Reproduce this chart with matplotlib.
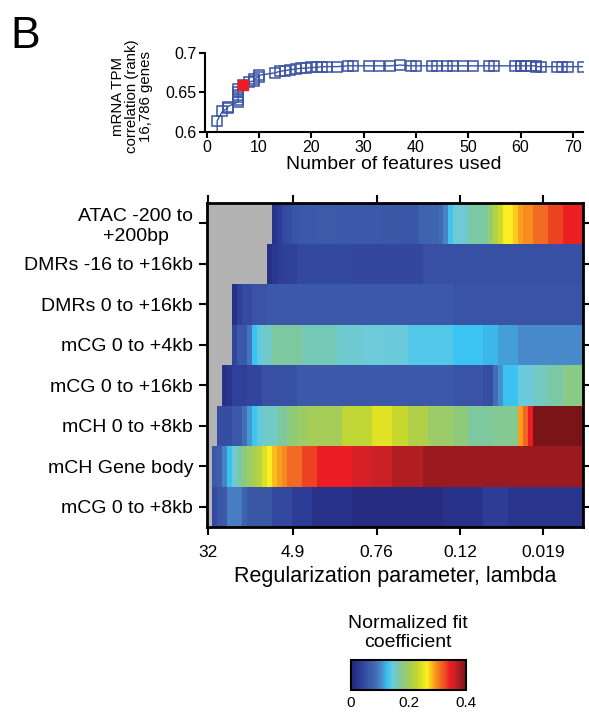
import numpy as np
import matplotlib.pyplot as plt
from matplotlib.colors import LinearSegmentedColormap

plt.rcParams['font.family'] = ['Liberation Sans', 'DejaVu Sans']

nan = np.nan

# top panel: correlation against number of features
n_features = [2, 2, 3, 4, 4, 6, 6, 6, 6, 6, 6, 7, 8, 9, 9, 10, 10, 13, 14, 15, 16, 17,
              18, 19, 20, 21, 22, 23, 25, 27, 28, 31, 33, 35, 37, 39, 40, 43, 44, 46,
              47, 49, 51, 54, 55, 59, 60, 60, 61, 62, 63, 63, 64, 67, 68, 69, 72]
correlation = [0.590, 0.614, 0.626, 0.630, 0.632, 0.638, 0.641, 0.644, 0.647, 0.651,
               0.655, 0.660, 0.663, 0.665, 0.667, 0.670, 0.672, 0.675, 0.677, 0.678,
               0.679, 0.680, 0.681, 0.681, 0.682, 0.682, 0.683, 0.683, 0.683, 0.684,
               0.684, 0.684, 0.684, 0.684, 0.685, 0.684, 0.684, 0.684, 0.684, 0.684,
               0.684, 0.684, 0.684, 0.684, 0.684, 0.684, 0.684, 0.684, 0.684, 0.684,
               0.684, 0.683, 0.683, 0.683, 0.683, 0.683, 0.683]
chosen_features = 7
chosen_corr = 0.660

# heatmap
feature_names = ['ATAC -200 to\n+200bp', 'DMRs -16 to +16kb', 'DMRs 0 to +16kb',
                 'mCG 0 to +4kb', 'mCG 0 to +16kb', 'mCH 0 to +8kb',
                 'mCH Gene body', 'mCG 0 to +8kb']
lambda_ticks = [32, 4.9, 0.76, 0.12, 0.019]
lambda_tick_labels = ['32', '4.9', '0.76', '0.12', '0.019']

atac = [nan, nan, nan, nan, nan, nan, nan, nan, nan, nan, nan, nan, nan, 0.020, 0.030,
        0.045, 0.050, 0.055, 0.060, 0.061, 0.062, 0.062, 0.063, 0.063, 0.063, 0.063, 0.062, 0.062, 0.062, 0.062,
        0.062, 0.062, 0.061, 0.061, 0.061, 0.060, 0.060, 0.060, 0.058, 0.058, 0.058, 0.058, 0.074, 0.075, 0.076,
        0.078, 0.082, 0.100, 0.130, 0.148, 0.148, 0.150, 0.165, 0.165, 0.166, 0.168, 0.190, 0.215, 0.235, 0.265,
        0.265, 0.275, 0.290, 0.298, 0.298, 0.312, 0.312, 0.312, 0.330, 0.330, 0.330, 0.343, 0.343, 0.343, 0.343]
dmr_16_16 = [nan, nan, nan, nan, nan, nan, nan, nan, nan, nan, nan, nan, 0.015, 0.025, 0.030,
             0.035, 0.035, 0.035, 0.045, 0.045, 0.045, 0.045, 0.045, 0.045, 0.045, 0.045, 0.045, 0.045, 0.045, 0.043,
             0.043, 0.043, 0.043, 0.043, 0.043, 0.043, 0.043, 0.043, 0.043, 0.043, 0.043, 0.043, 0.043, 0.052, 0.052,
             0.052, 0.052, 0.052, 0.052, 0.052, 0.052, 0.052, 0.052, 0.052, 0.052, 0.052, 0.052, 0.052, 0.052, 0.052,
             0.052, 0.052, 0.052, 0.052, 0.052, 0.052, 0.052, 0.052, 0.052, 0.052, 0.052, 0.052, 0.052, 0.052, 0.052]
dmr_0_16 = [nan, nan, nan, nan, nan, 0.015, 0.035, 0.048, 0.048, 0.056, 0.056, 0.056, 0.062, 0.062, 0.062,
            0.062, 0.062, 0.062, 0.062, 0.062, 0.062, 0.062, 0.062, 0.062, 0.062, 0.062, 0.062, 0.062, 0.062, 0.062,
            0.062, 0.062, 0.062, 0.062, 0.062, 0.062, 0.062, 0.062, 0.062, 0.062, 0.062, 0.062, 0.062, 0.062, 0.062,
            0.062, 0.062, 0.062, 0.062, 0.055, 0.055, 0.055, 0.055, 0.055, 0.055, 0.055, 0.055, 0.055, 0.055, 0.055,
            0.055, 0.055, 0.055, 0.055, 0.055, 0.055, 0.055, 0.055, 0.055, 0.055, 0.055, 0.055, 0.055, 0.055, 0.055]
mcg_0_4 = [nan, nan, nan, nan, nan, 0.040, 0.062, 0.062, 0.090, 0.128, 0.142, 0.152, 0.152, 0.168, 0.168,
           0.168, 0.168, 0.168, 0.168, 0.158, 0.158, 0.158, 0.158, 0.158, 0.158, 0.158, 0.150, 0.150, 0.150, 0.150,
           0.150, 0.146, 0.146, 0.146, 0.146, 0.146, 0.144, 0.144, 0.144, 0.144, 0.137, 0.137, 0.137, 0.137, 0.137,
           0.137, 0.137, 0.137, 0.137, 0.129, 0.129, 0.129, 0.129, 0.129, 0.129, 0.122, 0.122, 0.122, 0.112, 0.112,
           0.112, 0.112, 0.104, 0.104, 0.104, 0.104, 0.104, 0.104, 0.104, 0.104, 0.104, 0.104, 0.104, 0.104, 0.104]
mcg_0_16 = [nan, nan, nan, 0.015, 0.022, 0.035, 0.035, 0.035, 0.042, 0.042, 0.042, 0.052, 0.052, 0.052, 0.052,
            0.052, 0.052, 0.052, 0.062, 0.062, 0.062, 0.062, 0.062, 0.062, 0.062, 0.062, 0.062, 0.062, 0.062, 0.062,
            0.062, 0.062, 0.062, 0.062, 0.062, 0.062, 0.062, 0.062, 0.062, 0.062, 0.062, 0.062, 0.062, 0.062, 0.062,
            0.062, 0.062, 0.062, 0.062, 0.056, 0.056, 0.056, 0.056, 0.056, 0.056, 0.050, 0.050, 0.085, 0.105, 0.128,
            0.128, 0.128, 0.145, 0.145, 0.145, 0.155, 0.155, 0.155, 0.165, 0.165, 0.165, 0.180, 0.180, 0.180, 0.180]
mch_0_8 = [nan, nan, 0.050, 0.050, 0.050, 0.062, 0.062, 0.085, 0.110, 0.130, 0.142, 0.153, 0.153, 0.153, 0.168,
           0.168, 0.185, 0.185, 0.195, 0.195, 0.202, 0.202, 0.202, 0.202, 0.202, 0.202, 0.202, 0.225, 0.225, 0.225,
           0.225, 0.225, 0.225, 0.248, 0.248, 0.248, 0.248, 0.232, 0.232, 0.232, 0.212, 0.212, 0.212, 0.212, 0.195,
           0.195, 0.195, 0.195, 0.195, 0.185, 0.185, 0.185, 0.168, 0.168, 0.168, 0.168, 0.168, 0.175, 0.175, 0.175,
           0.175, 0.175, 0.290, 0.315, 0.345, 0.400, 0.400, 0.400, 0.400, 0.400, 0.400, 0.400, 0.400, 0.400, 0.400]
mch_body = [nan, 0.060, 0.070, 0.100, 0.128, 0.150, 0.165, 0.185, 0.195, 0.205, 0.220, 0.245, 0.265, 0.280, 0.290,
            0.300, 0.312, 0.312, 0.312, 0.330, 0.330, 0.330, 0.345, 0.345, 0.345, 0.345, 0.345, 0.345, 0.345, 0.355,
            0.355, 0.355, 0.355, 0.362, 0.362, 0.362, 0.362, 0.372, 0.372, 0.372, 0.372, 0.372, 0.372, 0.383, 0.383,
            0.383, 0.383, 0.383, 0.383, 0.383, 0.383, 0.383, 0.383, 0.383, 0.383, 0.383, 0.383, 0.383, 0.383, 0.383,
            0.383, 0.383, 0.383, 0.383, 0.383, 0.383, 0.383, 0.383, 0.383, 0.383, 0.383, 0.383, 0.383, 0.383, 0.383]
mcg_0_8 = [nan, 0.045, 0.058, 0.062, 0.098, 0.098, 0.098, 0.075, 0.060, 0.060, 0.060, 0.060, 0.060, 0.045, 0.045,
           0.045, 0.045, 0.030, 0.030, 0.030, 0.030, 0.018, 0.018, 0.018, 0.018, 0.018, 0.018, 0.018, 0.018, 0.008,
           0.008, 0.008, 0.008, 0.008, 0.008, 0.008, 0.008, 0.008, 0.008, 0.008, 0.008, 0.008, 0.008, 0.008, 0.008,
           0.008, 0.008, 0.018, 0.018, 0.018, 0.018, 0.018, 0.018, 0.018, 0.018, 0.032, 0.032, 0.032, 0.032, 0.032,
           0.022, 0.022, 0.022, 0.022, 0.022, 0.022, 0.022, 0.022, 0.022, 0.022, 0.022, 0.022, 0.022, 0.022, 0.022]

coefs = np.array([atac, dmr_16_16, dmr_0_16, mcg_0_4, mcg_0_16, mch_0_8, mch_body, mcg_0_8])
lambda_edges = np.logspace(np.log10(32.7), np.log10(0.00782), coefs.shape[1] + 1)

# jet-like map as in the figure
cmap_nodes = [
    (0.000, '#242979'), (0.015, '#283087'), (0.030, '#2d3c96'), (0.045, '#3449a0'),
    (0.060, '#3b58a7'), (0.080, '#3f68b1'), (0.100, '#4a82c3'), (0.128, '#39c4f2'),
    (0.145, '#6ccadb'), (0.165, '#7bc8a6'), (0.185, '#8fca7b'), (0.205, '#a8ce53'),
    (0.230, '#c4d72f'), (0.265, '#fcee1f'), (0.290, '#f8a01c'), (0.310, '#f37022'),
    (0.330, '#ee4623'), (0.345, '#ec1c24'), (0.360, '#cf2027'), (0.375, '#ad1e23'),
    (0.385, '#9a1a1f'), (0.400, '#7b1416'),
]
cmap = LinearSegmentedColormap.from_list('fitcoef', [(v / 0.4, c) for v, c in cmap_nodes])
cmap = cmap.with_extremes(bad='#b3b3b3')

fig = plt.figure(figsize=(5.89, 7.13), dpi=100)

# ---- top panel
ax1 = fig.add_axes([205 / 589, 1 - 131.7 / 713, 378 / 589, 78.4 / 713])
blue = '#3b54a4'
ax1.plot(n_features, correlation, '-s', color=blue, lw=1, ms=6.8, mfc='none', mec=blue, mew=1.1)
ax1.plot([chosen_features], [chosen_corr], 's', color='#ec1c24', ms=7, zorder=5)
ax1.set_xlim(-0.33, 71.95)
ax1.set_ylim(0.6, 0.7)
ax1.set_xticks(range(0, 71, 10))
ax1.set_yticks([0.6, 0.65, 0.7])
ax1.set_yticklabels(['0.6', '0.65', '0.7'])
for s in ['top', 'right']:
    ax1.spines[s].set_visible(False)
for s in ['left', 'bottom']:
    ax1.spines[s].set_linewidth(1.5)
ax1.tick_params(direction='out', length=4, width=1.5, labelsize=11.5, pad=2)
ax1.set_xlabel('Number of features used', fontsize=14, labelpad=1)
fig.text(132 / 589, 1 - 96 / 713, 'mRNA TPM\ncorrelation (rank)\n16,786 genes',
         rotation=90, ha='center', va='center', fontsize=10.8, linespacing=1.0)

# ---- heatmap
ax2 = fig.add_axes([207 / 589, 1 - 527 / 713, 376 / 589, 324 / 713])
mesh = ax2.pcolormesh(lambda_edges, np.arange(coefs.shape[0] + 1), np.ma.masked_invalid(coefs),
                      cmap=cmap, vmin=0, vmax=0.4, shading='flat', antialiased=False,
                      edgecolors='none', rasterized=True)
ax2.set_xscale('log')
ax2.set_xlim(lambda_edges[0], lambda_edges[-1])
ax2.set_ylim(coefs.shape[0], 0)
ax2.set_xticks(lambda_ticks)
ax2.set_xticklabels(lambda_tick_labels)
ax2.xaxis.set_minor_locator(plt.NullLocator())
ax2.set_yticks(np.arange(coefs.shape[0]) + 0.5)
ax2.set_yticklabels(feature_names, multialignment='center')
ax2.tick_params(axis='both', direction='out', length=6, width=1.5, top=True, right=True)
ax2.tick_params(axis='x', labelsize=12.5, pad=7)
ax2.tick_params(axis='y', labelsize=14, pad=4)
for s in ax2.spines.values():
    s.set_linewidth(2)
ax2.set_xlabel('Regularization parameter, lambda', fontsize=15.5, labelpad=4)

# ---- colorbar
cax = fig.add_axes([351 / 589, 1 - 690 / 713, 115 / 589, 30 / 713])
cb = fig.colorbar(mesh, cax=cax, orientation='horizontal', ticks=[0, 0.2, 0.4])
cb.ax.set_xticklabels(['0', '0.2', '0.4'])
cb.ax.tick_params(length=0, labelsize=11, pad=4)
cb.outline.set_linewidth(1.5)
fig.text(408 / 589, 1 - 633 / 713, 'Normalized fit\ncoefficient', ha='center', va='center',
         fontsize=14, linespacing=1.1)

fig.text(10 / 589, 1 - 48 / 713, 'B', fontsize=32, ha='left', va='baseline')

fig.savefig('out.png', dpi=100)
